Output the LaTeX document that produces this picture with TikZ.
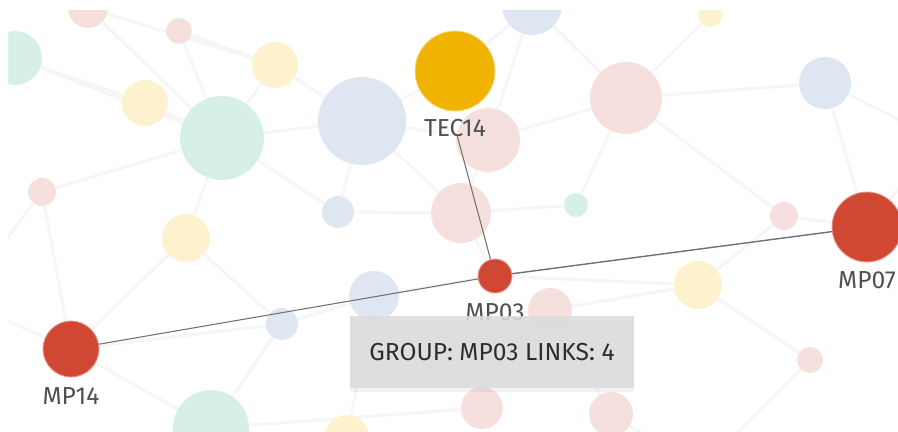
\documentclass[tikz,border=0pt]{standalone}
\usepackage{fontspec}
\setmainfont{Fira Sans}
\usepackage{tikz}
\usetikzlibrary{positioning, shadows}
\usepackage{xcolor}
\definecolor{RD}{RGB}{208,72,52}
\definecolor{YL}{RGB}{240,180,0}
\definecolor{MT}{RGB}{214,240,230}
\definecolor{BL}{RGB}{222,230,242}
\definecolor{YP}{RGB}{253,241,206}
\definecolor{PK}{RGB}{246,224,222}
\definecolor{FE}{RGB}{246,246,246}
\definecolor{LK}{RGB}{112,112,112}
\definecolor{TX}{RGB}{80,80,80}
\definecolor{TG}{RGB}{220,220,220}
\definecolor{TT}{RGB}{45,45,45}

\pgfdeclarelayer{edges}
\pgfdeclarelayer{bubbles}
\pgfdeclarelayer{links}
\pgfsetlayers{edges,bubbles,links,main}

\begin{document}
\begin{tikzpicture}[
  x=0.02cm, y=-0.02cm,
  bub/.style={circle, inner sep=0pt, minimum size=#1*0.04cm},
  mint/.style={bub=#1, fill=MT},
  blue/.style={bub=#1, fill=BL},
  yelp/.style={bub=#1, fill=YP},
  pink/.style={bub=#1, fill=PK},
  group/.style={bub=#1, fill=RD, draw=RD!55!white, line width=0.5pt},
  faint/.style={draw=FE, line width=1.8pt},
  link/.style={draw=LK, line width=0.6pt},
  tag/.style={font=\fontsize{14}{16}\selectfont, text=TX, inner sep=0pt},
  tip/.style={fill=TG, fill opacity=0.88, text opacity=1, text=TT,
              minimum width=5.7cm, minimum height=1.44cm,
              font=\fontsize{14}{16}\selectfont,
              drop shadow={opacity=0.1, shadow xshift=0pt, shadow yshift=-2pt}}
]
\useasboundingbox (0,0) rectangle (898,432);

% background network
\begin{pgfonlayer}{bubbles}
\node[mint=27] (mintA) at (15,58) {};
\node[pink=20] (pinkA) at (88,8) {};
\node[pink=13] (pinkB) at (179,31) {};
\node[yelp=23] (yelA) at (275,65) {};
\node[yelp=23] (yelB) at (145,103) {};
\node[mint=42] (mintB) at (222,138) {};
\node[blue=44] (blueA) at (362,121) {};
\node[pink=32] (pinkC) at (488,140) {};
\node[pink=30] (pinkD) at (461,213) {};
\node[blue=30] (blueB) at (532,5) {};
\node[yelp=12] (yelC) at (710,15) {};
\node[pink=36] (pinkE) at (626,98) {};
\node[blue=26] (blueC) at (825,83) {};
\node[mint=12] (mintC) at (576,205) {};
\node[pink=14] (pinkF) at (784,216) {};
\node[pink=14] (pinkG) at (42,192) {};
\node[blue=16] (blueD) at (338,212) {};
\node[yelp=24] (yelD) at (186,238) {};
\node[blue=25] (blueE) at (374,296) {};
\node[blue=16] (blueF) at (282,324) {};
\node[mint=38] (mintD) at (211,428) {};
\node[yelp=22] (yelE) at (347,437) {};
\node[yelp=24] (yelF) at (698,285) {};
\node[pink=13] (pinkH) at (810,360) {};
\node[pink=22] (pinkI) at (550,310) {};
\node[pink=21] (pinkJ) at (482,408) {};
\node[pink=22] (pinkK) at (611,414) {};
\end{pgfonlayer}

% highlighted group
\node[bub=40, fill=YL, draw=YL!50!white, line width=0.5pt] (TEC14) at (455,71) {};
\node[group=17] (MP03) at (495,276) {};
\node[group=35] (MP07) at (867,227) {};
\node[group=28] (MP14) at (71,349) {};

\node[tag, below=0.14cm of TEC14] (TEC14-l) {TEC14};
\node[tag, below=0.19cm of MP03]  (MP03-l)  {MP03};
\node[tag, below=0.18cm of MP07]  (MP07-l)  {MP07};
\node[tag, below=0.19cm of MP14]  (MP14-l)  {MP14};

\coordinate (offL) at (-40,300);
\coordinate (offR) at (940,140);
\coordinate (offB) at (700,470);

\begin{pgfonlayer}{edges}
\foreach \a/\b in {mintA/yelB, mintA/mintB, pinkA/mintB, pinkB/yelA, pinkB/mintB,
                   yelB/mintB, yelA/mintB, yelA/blueA, mintB/blueA, blueA/TEC14,
                   blueA/pinkD, blueA/blueD, mintB/blueD, mintB/yelD, pinkG/mintB,
                   pinkG/MP14, yelD/MP14, blueD/pinkD, pinkC/pinkE, pinkE/blueC,
                   blueB/pinkE, blueB/pinkC, blueB/TEC14, yelC/pinkE, blueC/MP07,
                   pinkF/MP07, pinkE/pinkF, mintC/pinkD, mintC/pinkE, yelF/MP03,
                   yelF/pinkH, yelF/pinkF, blueE/MP03, blueF/mintD, blueF/MP14,
                   blueE/blueF, pinkJ/MP03, pinkK/pinkI, mintD/MP14, pinkD/MP03,
                   pinkC/pinkD, yelD/blueF, pinkI/yelF, pinkJ/mintD, yelE/blueE,
                   offL/MP14, offL/pinkG, offR/blueC, offR/MP07, offB/pinkK,
                   offB/pinkH, pinkA/yelA, blueA/pinkC}
  \draw[faint] (\a) -- (\b);
\end{pgfonlayer}

\begin{pgfonlayer}{links}
\draw[link] (MP14) -- (MP03);
\draw[link, line width=0.8pt] (MP03) -- (MP07);
\draw[link] (TEC14-l) -- (MP03);
\end{pgfonlayer}

% tooltip
\node[tip] (tooltip) at (492,352) {GROUP: MP03 LINKS: 4};

% page margin
\fill[white, even odd rule] (0,0) rectangle (898,432) (8,10) rectangle (898,432);
\end{tikzpicture}
\end{document}
